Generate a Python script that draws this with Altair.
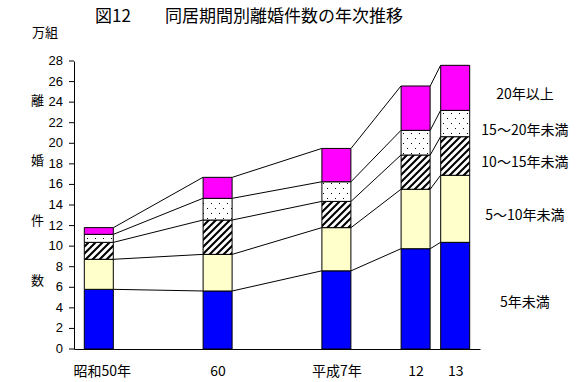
import altair as alt
import pandas as pd
import jinja2

# ---------------- data ----------------
years = ["昭和50年", "60", "平成7年", "12", "13"]
slots = [0, 3, 6, 8, 9]          # category slot of each year on the time axis (blank slots between)
series = ["5年未満", "5～10年未満", "10～15年未満", "15～20年未満", "20年以上"]
v_lt5 = [5.80, 5.64, 7.60, 9.75, 10.37]
v_5_10 = [2.92, 3.56, 4.20, 5.78, 6.52]
v_10_15 = [1.65, 3.34, 2.55, 3.33, 3.75]
v_15_20 = [0.78, 2.11, 1.91, 2.40, 2.56]
v_20up = [0.65, 2.04, 3.24, 4.31, 4.38]
y_ticks = list(range(0, 29, 2))

title_text = "図12　　同居期間別離婚件数の年次推移"
unit_text = "万組"
y_title = ["離", "婚", "件", "数"]

# ---------------- layout / style ----------------
N_SLOTS = 10
W, H = 406, 288
BAR_W = 29
CJK = "Noto Sans CJK JP"
LABEL_X = 11.26

values = [v_lt5, v_5_10, v_10_15, v_15_20, v_20up]
xpos = [s + 0.5 for s in slots]
half = (BAR_W / 2 + 0.5) / (W / N_SLOTS)

bar_rows = []
tops = []  # tops[i][k]
for i, yr in enumerate(years):
    cum = 0.0
    t = []
    for k, s in enumerate(series):
        v = values[k][i]
        bar_rows.append({"year": yr, "xc": xpos[i], "series": s, "y0": cum, "y1": cum + v})
        cum += v
        t.append(cum)
    tops.append(t)
bar_df = pd.DataFrame(bar_rows)

line_rows = []
for i in range(len(years) - 1):
    for k in range(len(series)):
        line_rows.append({"xa": xpos[i] + half, "xb": xpos[i + 1] - half,
                          "ya": tops[i][k], "yb": tops[i + 1][k]})
line_df = pd.DataFrame(line_rows)

last = len(years) - 1
lab_rows = []
for k, s in enumerate(series):
    lo = tops[last][k - 1] if k > 0 else 0.0
    lab_rows.append({"series": s, "lx": LABEL_X, "ly": (lo + tops[last][k]) / 2})
lab_df = pd.DataFrame(lab_rows)

tick_df = pd.DataFrame({"v": y_ticks, "t": [str(v) for v in y_ticks]})

label_expr = " : ".join(f"datum.value == {p} ? '{y}'" for p, y in zip(xpos, years)) + " : ''"

TEMPLATE = jinja2.Template("""<!DOCTYPE html>
<html>
<head>
<meta charset="utf-8">
<style>
  html, body { overflow: hidden; }
  body { margin: 0px 8px 8px 8px; }
  #{{ output_div }}.vega-embed { display: block; }
  #{{ output_div }} svg { flex-shrink: 0; max-width: none; display: block; }
</style>
<script type="text/javascript" src="{{ base_url }}/vega@{{ vega_version }}"></script>
<script type="text/javascript" src="{{ base_url }}/vega-lite@{{ vegalite_version }}"></script>
<script type="text/javascript" src="{{ base_url }}/vega-embed@{{ vegaembed_version }}"></script>
</head>
<body>
<svg width="0" height="0" style="position:absolute;left:0;top:0">
  <defs>
    <pattern id="hatch" patternUnits="userSpaceOnUse" width="7" height="7">
      <rect x="0" y="0" width="7" height="7" fill="white"/>
      <path d="M-1,1 L1,-1 M0,7 L7,0 M6,8 L8,6" stroke="black" stroke-width="2.1"/>
    </pattern>
    <pattern id="dots" patternUnits="userSpaceOnUse" width="8" height="10">
      <rect x="0" y="0" width="8" height="10" fill="white"/>
      <rect x="1" y="2" width="1" height="1" fill="black"/>
      <rect x="5" y="7" width="1" height="1" fill="black"/>
    </pattern>
  </defs>
</svg>
<div id="{{ output_div }}"></div>
<script type="text/javascript">
  var spec = {{ spec }};
  var embedOpt = {{ embed_options }};
  vegaEmbed("#{{ output_div }}", spec, embedOpt).catch(function (e) {
    document.getElementById("{{ output_div }}").innerHTML = "<pre>" + e + "</pre>";
  });
</script>
</body>
</html>""")


def build(fills, top_pad):
    x_scale = alt.Scale(domain=[0, N_SLOTS], nice=False, zero=False)
    y_scale = alt.Scale(domain=[0, 28], nice=False)
    x_axis = alt.Axis(values=xpos, labelExpr=label_expr, ticks=False, tickSize=0,
                      grid=False, domainColor="black", domainWidth=1,
                      labelPadding=15, labelFont=CJK, labelFontSize=14,
                      labelColor="black", labelOverlap=False, labelFlush=False,
                      labelOffset={"condition": {"test": "datum.value == %s" % xpos[0], "value": 3}, "value": 0},
                      title=None)
    # y axis: domain line + title here; ticks and tick labels drawn from y_ticks below
    y_axis = alt.Axis(labels=False, ticks=False, grid=False, domainColor="black",
                      title=y_title, titleAngle=0, titleX=-37, titleY=33,
                      titleBaseline="top", titleAlign="center", titleLineHeight=60,
                      titleFont=CJK, titleFontSize=13, titleFontWeight="normal",
                      titleColor="black")

    bars = alt.Chart(bar_df).mark_bar(width=BAR_W, stroke="black", strokeWidth=1).encode(
        x=alt.X("xc:Q", scale=x_scale, axis=x_axis),
        y=alt.Y("y0:Q", scale=y_scale, axis=y_axis),
        y2="y1:Q",
        fill=alt.Fill("series:N", scale=alt.Scale(domain=series, range=fills), legend=None),
    )

    lines = alt.Chart(line_df).mark_rule(color="black", strokeWidth=1).encode(
        x=alt.X("xa:Q", scale=x_scale, axis=x_axis), x2="xb:Q",
        y=alt.Y("ya:Q", scale=y_scale, axis=y_axis), y2="yb:Q"
    )

    labels = alt.Chart(lab_df).mark_text(align="center", baseline="middle", dy=7,
                                         font=CJK, fontSize=14, color="black").encode(
        x=alt.X("lx:Q", scale=x_scale, axis=x_axis),
        y=alt.Y("ly:Q", scale=y_scale, axis=y_axis),
        text="series:N"
    )

    ticks = alt.Chart(tick_df).mark_rule(color="black", strokeWidth=1).encode(
        x=alt.value(-5), x2=alt.value(0),
        y=alt.Y("v:Q", scale=y_scale, axis=y_axis),
    )
    tick_labels = alt.Chart(tick_df).mark_text(
        align="right", baseline="middle", font="Liberation Sans", fontSize=13, color="black"
    ).encode(
        x=alt.value(-11),
        y=alt.Y("v:Q", scale=y_scale, axis=y_axis),
        text="t:N",
    )

    unit = alt.Chart(pd.DataFrame({"t": [unit_text]})).mark_text(
        align="center", baseline="middle", font=CJK, fontSize=13, color="black"
    ).encode(x=alt.value(-29), y=alt.value(-28.5), text="t:N")

    chart = alt.layer(bars, lines, labels, ticks, tick_labels, unit).properties(
        width=W, height=H,
        autosize=alt.AutoSizeParams(type="none"),
        padding={"left": 66, "top": top_pad, "right": 97, "bottom": 33},
        title=alt.Title(title_text, font=CJK, fontSize=17, fontWeight="normal", color="black",
                        anchor="middle", frame="group", dx=-28, offset=1),
        background="white",
    ).configure_view(stroke=None)
    return chart


fills_pattern = ["#0000FF", "#FFFFCC", "url(#hatch)", "url(#dots)", "#FF00FF"]
fills_plain = ["#0000FF", "#FFFFCC", "#808080", "#f0f0f0", "#FF00FF"]

try:
    chart = build(fills_pattern, 61)
    chart.save("out.html", embed_options={"renderer": "svg", "actions": False}, template=TEMPLATE)
except Exception:
    chart = build(fills_plain, 53)
    chart.save("out.html", embed_options={"renderer": "svg", "actions": False})
